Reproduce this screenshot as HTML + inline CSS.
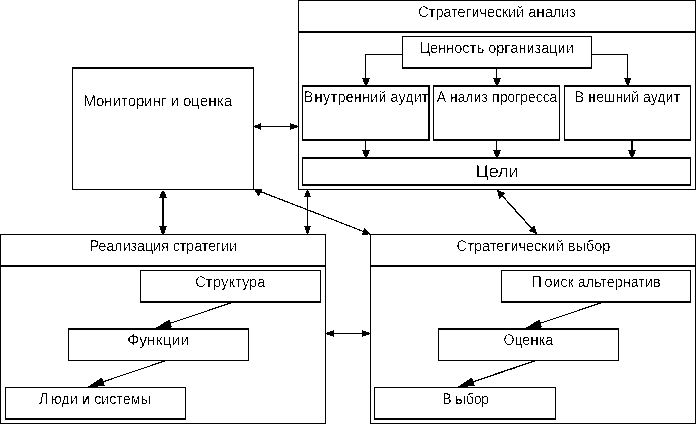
<!DOCTYPE html>
<html><head><meta charset="utf-8"><style>
html,body{margin:0;padding:0;background:#fff;}
body{width:696px;height:424px;overflow:hidden;}
svg{display:block;}
text{font-family:"Liberation Sans",sans-serif;fill:#000;text-rendering:geometricPrecision;}
</style></head><body>
<svg width="696" height="424" viewBox="0 0 696 424">
<defs><filter id="th" x="0" y="0" width="696" height="424" filterUnits="userSpaceOnUse"><feComponentTransfer><feFuncA type="discrete" tableValues="0 1"/></feComponentTransfer></filter>
<filter id="tt" x="0" y="0" width="696" height="424" filterUnits="userSpaceOnUse"><feComponentTransfer><feFuncA type="discrete" tableValues="0 0 0 1 1"/></feComponentTransfer></filter></defs>
<rect width="696" height="424" fill="#fff"/>
<g fill="#000" shape-rendering="crispEdges">
<rect x="298" y="0" width="398" height="1"/>
<rect x="298" y="189" width="398" height="1"/>
<rect x="298" y="0" width="1" height="190"/>
<rect x="695" y="0" width="1" height="190"/>
<rect x="298" y="31" width="398" height="2"/>
<rect x="402" y="36" width="190" height="1"/>
<rect x="402" y="67" width="190" height="2"/>
<rect x="402" y="36" width="1" height="33"/>
<rect x="591" y="36" width="1" height="33"/>
<rect x="302" y="85" width="128" height="2"/>
<rect x="302" y="139" width="128" height="2"/>
<rect x="302" y="85" width="1" height="56"/>
<rect x="428" y="85" width="2" height="56"/>
<rect x="433" y="85" width="127" height="2"/>
<rect x="433" y="139" width="127" height="2"/>
<rect x="433" y="85" width="1" height="56"/>
<rect x="559" y="85" width="1" height="56"/>
<rect x="564" y="85" width="127" height="2"/>
<rect x="564" y="139" width="127" height="2"/>
<rect x="564" y="85" width="1" height="56"/>
<rect x="690" y="85" width="1" height="56"/>
<rect x="302" y="157" width="389" height="2"/>
<rect x="302" y="184" width="389" height="2"/>
<rect x="302" y="157" width="1" height="29"/>
<rect x="690" y="157" width="1" height="29"/>
<rect x="72" y="67" width="182" height="2"/>
<rect x="72" y="189" width="182" height="1"/>
<rect x="72" y="67" width="1" height="123"/>
<rect x="253" y="67" width="1" height="123"/>
<rect x="0" y="234" width="326" height="1"/>
<rect x="0" y="423" width="326" height="1"/>
<rect x="0" y="234" width="1" height="190"/>
<rect x="325" y="234" width="1" height="190"/>
<rect x="0" y="265" width="326" height="2"/>
<rect x="140" y="270" width="181" height="1"/>
<rect x="140" y="301" width="181" height="2"/>
<rect x="140" y="270" width="1" height="33"/>
<rect x="320" y="270" width="1" height="33"/>
<rect x="68" y="328" width="181" height="2"/>
<rect x="68" y="360" width="181" height="1"/>
<rect x="68" y="328" width="1" height="33"/>
<rect x="248" y="328" width="1" height="33"/>
<rect x="5" y="387" width="181" height="1"/>
<rect x="5" y="418" width="181" height="2"/>
<rect x="5" y="387" width="1" height="33"/>
<rect x="185" y="387" width="1" height="33"/>
<rect x="370" y="234" width="326" height="1"/>
<rect x="370" y="423" width="326" height="1"/>
<rect x="370" y="234" width="1" height="190"/>
<rect x="695" y="234" width="1" height="190"/>
<rect x="370" y="265" width="326" height="2"/>
<rect x="501" y="270" width="190" height="1"/>
<rect x="501" y="301" width="190" height="2"/>
<rect x="501" y="270" width="1" height="33"/>
<rect x="690" y="270" width="1" height="33"/>
<rect x="438" y="328" width="181" height="2"/>
<rect x="438" y="360" width="181" height="1"/>
<rect x="438" y="328" width="1" height="33"/>
<rect x="618" y="328" width="1" height="33"/>
<rect x="374" y="387" width="182" height="1"/>
<rect x="374" y="418" width="182" height="2"/>
<rect x="374" y="387" width="1" height="33"/>
<rect x="555" y="387" width="1" height="33"/>
<rect x="365" y="54" width="38" height="1"/>
<rect x="365" y="54" width="1" height="26"/>
<rect x="496" y="69" width="1" height="11"/>
<rect x="591" y="54" width="37" height="1"/>
<rect x="627" y="54" width="1" height="26"/>
<rect x="365" y="141" width="1" height="11"/>
<rect x="496" y="141" width="1" height="11"/>
<rect x="631" y="141" width="2" height="11"/>
<rect x="258" y="126" width="37" height="1"/>
<rect x="162" y="196" width="2" height="33"/>
<rect x="307" y="195" width="1" height="34"/>
<rect x="330" y="333" width="37" height="1"/>
</g>
<g filter="url(#th)">
<g fill="#000">
<polygon points="362.00,78.00 370.00,78.00 367.00,85.00 365.00,85.00"/>
<polygon points="493.00,78.00 501.00,78.00 498.00,85.00 496.00,85.00"/>
<polygon points="624.00,78.00 631.00,78.00 629.00,85.00 627.00,85.00"/>
<polygon points="362.00,150.00 370.00,150.00 367.00,157.00 365.00,157.00"/>
<polygon points="493.00,150.00 501.00,150.00 498.00,157.00 496.00,157.00"/>
<polygon points="628.00,150.00 636.00,150.00 633.00,157.00 631.00,157.00"/>
<polygon points="254.00,126.00 254.00,127.00 261.00,130.00 261.00,123.00"/>
<polygon points="298.00,126.00 298.00,127.00 290.00,130.00 290.00,123.00"/>
<polygon points="162.00,191.00 164.00,191.00 167.00,198.00 159.00,198.00"/>
<polygon points="159.00,226.00 167.00,226.00 164.00,234.00 162.00,234.00"/>
<polygon points="307.00,190.00 308.00,190.00 311.00,197.00 304.00,197.00"/>
<polygon points="304.00,226.00 311.00,226.00 308.00,234.00 307.00,234.00"/>
<polygon points="326.00,333.00 326.00,334.00 334.00,337.00 334.00,330.00"/>
<polygon points="370.00,333.00 370.00,334.00 362.00,337.00 362.00,330.00"/>
<polygon points="253.80,189.00 262.50,189.00 258.60,196.30"/>
<polygon points="370.20,234.30 364.41,227.66 361.45,235.30"/>
<polygon points="497.00,190.00 499.39,198.90 505.62,193.26"/>
<polygon points="536.80,234.00 534.40,225.38 528.47,230.75"/>
<polygon points="155.20,328.30 169.30,319.50 172.00,327.60"/>
<polygon points="87.30,387.20 101.80,377.40 104.80,386.00"/>
<polygon points="525.20,328.30 539.30,319.50 542.00,327.60"/>
<polygon points="457.30,387.20 471.80,377.40 474.80,386.00"/>
</g>
<g stroke="#000" fill="none">
<line x1="254" y1="189" x2="370" y2="234" stroke-width="1.3"/>
<line x1="497" y1="190" x2="536.8" y2="234" stroke-width="1.3"/>
<line x1="232" y1="302.5" x2="165" y2="325" stroke-width="1.3"/>
<line x1="166" y1="360.5" x2="98" y2="383.5" stroke-width="1.3"/>
<line x1="602" y1="302.5" x2="535" y2="325" stroke-width="1.3"/>
<line x1="536" y1="360.5" x2="468" y2="383.5" stroke-width="1.3"/>
</g>
</g>
<g filter="url(#tt)">
<text x="418.2" y="17" textLength="157.6" lengthAdjust="spacingAndGlyphs" font-size="15.5">С<tspan font-weight="bold">т</tspan>рате<tspan font-weight="bold">г</tspan>ический а<tspan font-weight="bold">н</tspan>ализ</text>
<text x="419.4" y="53" textLength="154.4" lengthAdjust="spacingAndGlyphs" font-size="15.5">Ценнос<tspan font-weight="bold">т</tspan>ь ор<tspan font-weight="bold">г</tspan>анизации</text>
<text x="303.7" y="102" textLength="125.2" lengthAdjust="spacingAndGlyphs" font-size="15.5">В<tspan font-weight="bold" dx="1">н</tspan>у<tspan font-weight="bold">т</tspan>р<tspan font-weight="bold">е</tspan><tspan font-weight="bold">н</tspan>ний ауди<tspan font-weight="bold">т</tspan></text>
<text x="436.7" y="102" textLength="120.6" lengthAdjust="spacingAndGlyphs" font-size="15.5">А<tspan font-weight="bold" dx="4">н</tspan>ализ <tspan font-weight="bold">п</tspan>рогресса</text>
<text x="574.7" y="102" textLength="105.6" lengthAdjust="spacingAndGlyphs" font-size="15.5">В<tspan font-weight="bold" dx="4">н</tspan>ешний ауди<tspan font-weight="bold">т</tspan></text>
<text x="475.4" y="177" textLength="43.2" lengthAdjust="spacingAndGlyphs" font-size="17">Цели</text>
<text x="83.4" y="106" textLength="148.9" lengthAdjust="spacingAndGlyphs" font-size="15.5">Мониторинг и оце<tspan font-weight="bold">н</tspan>ка</text>
<text x="89.7" y="251" textLength="147.4" lengthAdjust="spacingAndGlyphs" font-size="15.5">Реализация стратегии</text>
<text x="456.5" y="251" textLength="153.8" lengthAdjust="spacingAndGlyphs" font-size="15.5">С<tspan font-weight="bold">т</tspan>рате<tspan font-weight="bold">г</tspan>ический выбор</text>
<text x="195.2" y="287" textLength="70.3" lengthAdjust="spacingAndGlyphs" font-size="15.5">С<tspan font-weight="bold">т</tspan>руктура</text>
<text x="531.4" y="287" textLength="129.1" lengthAdjust="spacingAndGlyphs" font-size="15.5">П<tspan dx="3">о</tspan>иск альтернатив</text>
<text x="127.2" y="345" textLength="62.1" lengthAdjust="spacingAndGlyphs" font-size="15.5">Функции</text>
<text x="503.5" y="345" textLength="49.5" lengthAdjust="spacingAndGlyphs" font-size="15.5">Оце<tspan font-weight="bold">н</tspan>ка</text>
<text x="39.0" y="404" textLength="111.6" lengthAdjust="spacingAndGlyphs" font-size="15.5">Л<tspan dx="3">ю</tspan>ди <tspan font-weight="bold">и</tspan> системы</text>
<text x="442.4" y="404" textLength="46.4" lengthAdjust="spacingAndGlyphs" font-size="15.5">В<tspan font-weight="bold" dx="4">ы</tspan>бор</text>
</g>
</svg>
</body></html>
